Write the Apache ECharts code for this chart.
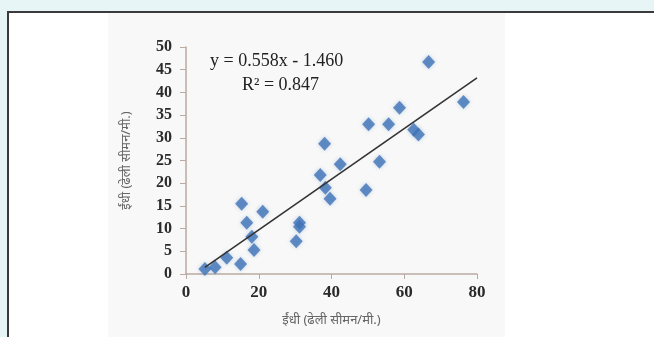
<!DOCTYPE html>
<html>
<head>
<meta charset="utf-8">
<script src="https://cdn.jsdelivr.net/npm/echarts@6/dist/echarts.min.js"></script>
<style>
html,body{margin:0;padding:0;width:654px;height:337px;overflow:hidden;background:#e8f5f6;}
#box{position:absolute;left:7px;top:11px;width:700px;height:400px;border:2px solid #3a3a3a;background:#ffffff;}
#panel{position:absolute;left:108px;top:13px;width:397px;height:330px;background:#f8f8f8;}
#chart{position:absolute;left:0;top:0;width:654px;height:337px;}
</style>
</head>
<body>
<div id="box"></div>
<div id="panel"></div>
<div id="chart"></div>
<script>
var xValues = [5.2, 8.0, 11.2, 15.0, 15.3, 16.7, 18.1, 18.7, 21.1, 30.3, 31.2, 31.2, 36.9, 38.1, 38.3, 39.6, 42.4, 49.5, 50.2, 53.2, 55.7, 58.7, 62.6, 63.9, 66.7, 76.3];
var yValues = [1.1, 1.5, 3.6, 2.2, 15.5, 11.3, 8.2, 5.3, 13.7, 7.2, 11.3, 10.4, 21.8, 28.7, 19.0, 16.6, 24.2, 18.5, 33.0, 24.7, 33.0, 36.6, 31.8, 30.7, 46.7, 37.9];
var xTicks = [0, 20, 40, 60, 80];
var yTicks = [0, 5, 10, 15, 20, 25, 30, 35, 40, 45, 50];
var slope = 0.558, intercept = -1.460, r2 = 0.847;
var trendRange = [5.2, 80];
var axisTitle = 'ईंधी (ढेली सीमन/मी.)';

var points = xValues.map(function (x, i) { return [x, yValues[i]]; });
var trend = trendRange.map(function (x) { return [x, slope * x + intercept]; });

var chart = echarts.init(document.getElementById('chart'), null, {renderer: 'canvas'});
var font = '"Liberation Serif", "Times New Roman", serif';
var axisColor = '#b9aaa2';
chart.setOption({
  backgroundColor: 'transparent',
  animation: false,
  grid: {left: 186, right: 177, top: 47, bottom: 63, containLabel: false},
  xAxis: {
    type: 'value', min: 0, max: 80, interval: 20,
    axisLine: {show: true, onZero: false, lineStyle: {color: axisColor, width: 1.5}},
    axisTick: {show: true, inside: false, length: 5, lineStyle: {color: axisColor}},
    splitLine: {show: false},
    axisLabel: {color: '#2a2a2a', fontFamily: font, fontSize: 17, fontWeight: 'bold', margin: 10,
      formatter: function (v) { return xTicks.indexOf(v) >= 0 ? String(v) : ''; }},
    name: axisTitle, nameLocation: 'middle', nameGap: 40,
    nameTextStyle: {color: '#666', fontFamily: '"Noto Sans", sans-serif', fontSize: 13}
  },
  yAxis: {
    type: 'value', min: 0, max: 50, interval: 5,
    axisLine: {show: true, onZero: false, lineStyle: {color: axisColor, width: 1.5}},
    axisTick: {show: true, inside: false, length: 6, lineStyle: {color: axisColor}},
    splitLine: {show: false},
    axisLabel: {color: '#2a2a2a', fontFamily: font, fontSize: 16, fontWeight: 'bold', margin: 14,
      formatter: function (v) { return yTicks.indexOf(v) >= 0 ? String(v) : ''; }},
    name: axisTitle, nameLocation: 'middle', nameGap: 53, nameRotate: 90,
    nameTextStyle: {color: '#666', fontFamily: '"Noto Sans", sans-serif', fontSize: 13}
  },
  series: [
    {
      type: 'scatter', data: points, symbol: 'diamond', symbolSize: [13, 14],
      itemStyle: {color: '#3f73b8', shadowBlur: 4, shadowColor: 'rgba(63,115,184,0.35)'},
      z: 2
    },
    {
      type: 'line', data: trend, symbol: 'none',
      lineStyle: {color: '#333333', width: 1.6}, z: 3
    }
  ],
  graphic: [
    {type: 'text', left: 210, top: 52, style: {text: 'y = 0.558x - 1.460', font: '18px ' + font, fill: '#222'}},
    {type: 'text', left: 242, top: 76, style: {text: 'R² = 0.847', font: '18px ' + font, fill: '#222'}}
  ]
});
</script>
</body>
</html>
